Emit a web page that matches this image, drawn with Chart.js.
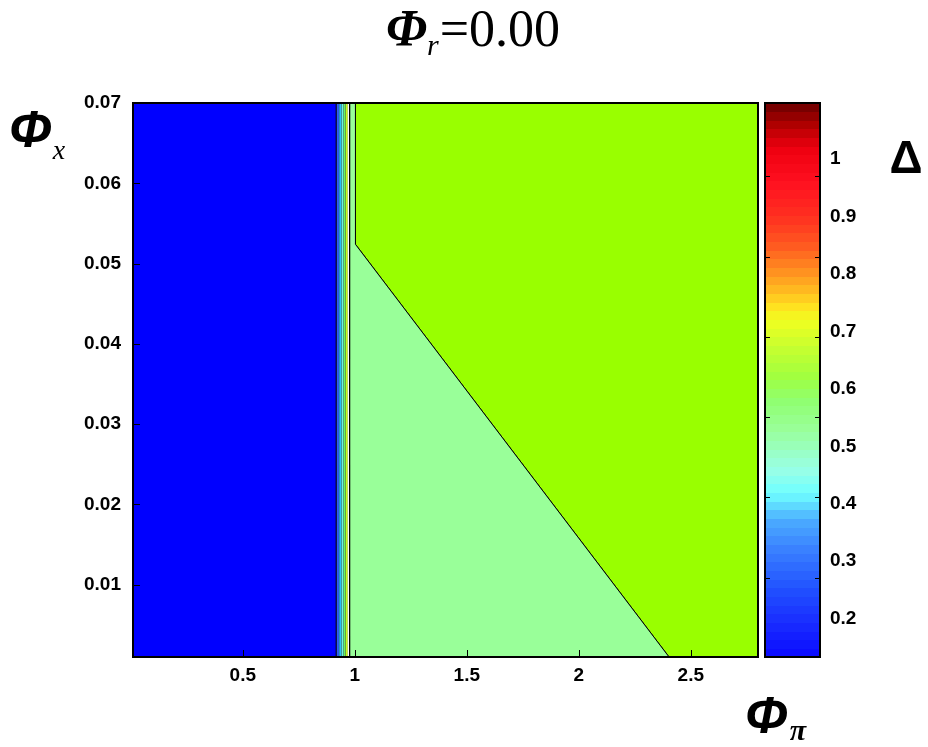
<!DOCTYPE html>
<html>
<head>
<meta charset="utf-8">
<script src="https://cdn.jsdelivr.net/npm/chart.js@4.4.1/dist/chart.umd.min.js"></script>
<style>
  body { margin: 0; background: #fff; }
  canvas { display: block; }
</style>
</head>
<body>
<canvas id="myChart" width="928" height="747"></canvas>
<script>
const CHART = document.getElementById('myChart');

// axis ranges and tick labels
const xRange = [0.01, 2.8];
const yRange = [0.001, 0.07];
const cbRange = [0.133, 1.098];
const xTicks = [0.5, 1, 1.5, 2, 2.5];
const yTicks = [0.01, 0.02, 0.03, 0.04, 0.05, 0.06, 0.07];
const cbTicks = [0.2, 0.3, 0.4, 0.5, 0.6, 0.7, 0.8, 0.9, 1];

// filled contour regions (phi_pi, phi_x)
const blueZone = [[0.01, 0.001], [0.917, 0.001], [0.917, 0.07], [0.01, 0.07]];
const stripEdges = [0.917, 0.929, 0.94, 0.949, 0.958, 0.968, 0.977];
const stripColors = ['#2a5cff', '#28c8ff', '#70ffe0', '#66ff66', '#c6ff1a'];
const lightZone = [[0.977, 0.001], [2.403, 0.001], [1.003, 0.0524], [1.003, 0.07], [0.977, 0.07]];
const greenZone = [[1.003, 0.07], [2.8, 0.07], [2.8, 0.001], [2.403, 0.001], [1.003, 0.0524]];

// colour map of the colour bar
const cmapValues = [0.133, 0.2, 0.25, 0.32, 0.37, 0.40, 0.42, 0.46, 0.50, 0.53, 0.58, 0.62, 0.67, 0.72, 0.745, 0.78, 0.81, 0.85, 0.90, 0.96, 1.02, 1.06, 1.098];
const cmapColors = ['#0a0aff', '#1a30ff', '#2050ff', '#3a80ff', '#4aaaff', '#60e0ff', '#70ffff', '#99ffe6', '#99ffbb', '#99ff99', '#90ff70', '#a0ff40', '#c4ff30', '#f0ff20', '#ffe020', '#ffb020', '#ff8a20', '#ff5a20', '#ff3020', '#ff1020', '#ee0010', '#b00000', '#6a0000'];
const cbLevels = 64;

const toPts = (poly) => {
    let pts = poly.map((p) => ({x: p[0], y: p[1]}));
    pts.push({x: poly[0][0], y: poly[0][1]});
    return pts;
};

const zone = (poly, color, edge, width) => ({
    data: toPts(poly),
    backgroundColor: color,
    borderColor: edge || '#000',
    borderWidth: width || 1,
    pointRadius: 0,
    tension: 0,
    fill: 'shape'
});

let datasets = [zone(blueZone, '#0000ff')];
for (let i = 0; i < stripColors.length; i++) {
    let a = stripEdges[i], b = stripEdges[i + 1];
    datasets.push(zone([[a, 0.001], [b, 0.001], [b, 0.07], [a, 0.07]], stripColors[i], 'rgba(0,0,0,0.3)', 0.6));
}
datasets.push(zone(lightZone, '#99ff99'));
datasets.push(zone(greenZone, '#99ff00'));

const hexToRgb = (h) => [parseInt(h.slice(1, 3), 16), parseInt(h.slice(3, 5), 16), parseInt(h.slice(5, 7), 16)];

const cmap = (v) => {
    if (v <= cmapValues[0]) return cmapColors[0];
    for (let i = 1; i < cmapValues.length; i++) {
        if (v <= cmapValues[i]) {
            let t = (v - cmapValues[i - 1]) / (cmapValues[i] - cmapValues[i - 1]);
            let a = hexToRgb(cmapColors[i - 1]), b = hexToRgb(cmapColors[i]);
            let c = a.map((u, k) => Math.round(u + (b[k] - u) * t));
            return 'rgb(' + c.join(',') + ')';
        }
    }
    return cmapColors[cmapColors.length - 1];
};

const fmt = (v) => String(+v.toFixed(2));
const tickFont = {family: 'Liberation Sans', weight: 'bold', size: 19};

// draw a run of text pieces (for sub-scripts); align 'center' centres the whole run on x
const drawParts = (ctx, x, y, parts, align) => {
    ctx.textBaseline = 'alphabetic';
    ctx.textAlign = 'left';
    if (align === 'center') {
        let w = 0;
        for (const p of parts) {
            ctx.font = p.font;
            w += ctx.measureText(p.text).width + (p.gap || 0);
        }
        x -= w / 2;
    }
    for (const p of parts) {
        ctx.font = p.font;
        ctx.fillText(p.text, x, y + (p.dy || 0));
        x += ctx.measureText(p.text).width + (p.gap || 0);
    }
};

const decorations = {
    id: 'decorations',
    afterDatasetsDraw(chart) {
        const ctx = chart.ctx;
        const a = chart.chartArea;
        const sx = chart.scales.x, sy = chart.scales.y;
        ctx.save();
        ctx.strokeStyle = '#000';
        ctx.lineWidth = 1;
        ctx.beginPath();
        for (const v of xTicks) {
            let px = Math.round(sx.getPixelForValue(v)) + 0.5;
            ctx.moveTo(px, a.bottom);
            ctx.lineTo(px, a.bottom - 7);
        }
        for (const v of yTicks) {
            let py = Math.round(sy.getPixelForValue(v)) + 0.5;
            ctx.moveTo(a.left, py);
            ctx.lineTo(a.left + 7, py);
        }
        ctx.stroke();
        ctx.lineWidth = 2;
        ctx.strokeRect(a.left, a.top, a.right - a.left, a.bottom - a.top);
        ctx.restore();
    },
    afterDraw(chart) {
        const ctx = chart.ctx;
        const a = chart.chartArea;
        const cb = chart.scales.cb, sy = chart.scales.y;
        const left = a.right + 7, right = a.right + 62;
        ctx.save();
        // colour bar bands
        const step = (cbRange[1] - cbRange[0]) / cbLevels;
        for (let i = 0; i < cbLevels; i++) {
            let v0 = cbRange[0] + i * step;
            let y0 = cb.getPixelForValue(v0), y1 = cb.getPixelForValue(v0 + step);
            ctx.fillStyle = cmap(v0 + step / 2);
            ctx.fillRect(left, Math.floor(y1), right - left, Math.ceil(y0) - Math.floor(y1));
        }
        ctx.strokeStyle = '#000';
        ctx.lineWidth = 1;
        ctx.beginPath();
        for (const v of yTicks.slice(0, -1)) {
            let py = Math.round(sy.getPixelForValue(v)) - 6.5;
            ctx.moveTo(left, py);
            ctx.lineTo(left + 5, py);
            ctx.moveTo(right, py);
            ctx.lineTo(right - 5, py);
        }
        ctx.stroke();
        ctx.lineWidth = 2;
        ctx.strokeRect(left, a.top, right - left, a.bottom - a.top);

        // titles
        ctx.fillStyle = '#000';
        drawParts(ctx, 473, 46, [
            {text: 'Φ', font: 'italic bold 52px "Liberation Serif"'},
            {text: 'r', font: 'italic 30px "Liberation Serif"', dy: 9, gap: 1},
            {text: '=0.00', font: '52px "Liberation Serif"'}
        ], 'center');
        drawParts(ctx, 9, 147, [
            {text: 'Φ', font: 'italic bold 52px "Liberation Sans"', gap: 1},
            {text: 'x', font: 'italic 28px "Liberation Serif"', dy: 12}
        ]);
        drawParts(ctx, 745, 733, [
            {text: 'Φ', font: 'italic bold 52px "Liberation Sans"', gap: 2},
            {text: 'π', font: 'italic bold 30px "Liberation Serif"', dy: 7}
        ]);
        ctx.font = 'bold 46px "Liberation Sans"';
        ctx.textAlign = 'center';
        ctx.fillText('Δ', 906, 173);
        ctx.restore();
    }
};

let contourChart = new Chart(CHART, {
    type: 'line',
    data: { datasets: datasets },
    options: {
        responsive: false,
        animation: false,
        layout: { padding: { top: 103, left: 0, right: 0, bottom: 0 } },
        plugins: {
            legend: { display: false },
            title: { display: false },
            tooltip: { enabled: false }
        },
        scales: {
            x: {
                type: 'linear',
                min: xRange[0],
                max: xRange[1],
                afterBuildTicks: (s) => { s.ticks = xTicks.map((v) => ({value: v})); },
                afterFit: (s) => { s.height = 90; },
                grid: { display: false, drawTicks: false },
                border: { display: false },
                ticks: { color: '#000', font: tickFont, padding: 7, maxRotation: 0, callback: fmt }
            },
            y: {
                type: 'linear',
                min: yRange[0],
                max: yRange[1],
                afterBuildTicks: (s) => { s.ticks = yTicks.map((v) => ({value: v})); },
                afterFit: (s) => { s.width = 133; },
                grid: { display: false, drawTicks: false },
                border: { display: false },
                ticks: { color: '#000', font: tickFont, padding: 12, callback: fmt }
            },
            cb: {
                type: 'linear',
                axis: 'y',
                position: 'right',
                min: cbRange[0],
                max: cbRange[1],
                afterBuildTicks: (s) => { s.ticks = cbTicks.map((v) => ({value: v})); },
                afterFit: (s) => { s.width = 170; },
                grid: { display: false, drawTicks: false },
                border: { display: false },
                ticks: { color: '#000', font: tickFont, padding: 72, callback: fmt }
            }
        }
    },
    plugins: [decorations]
});
</script>
</body>
</html>
